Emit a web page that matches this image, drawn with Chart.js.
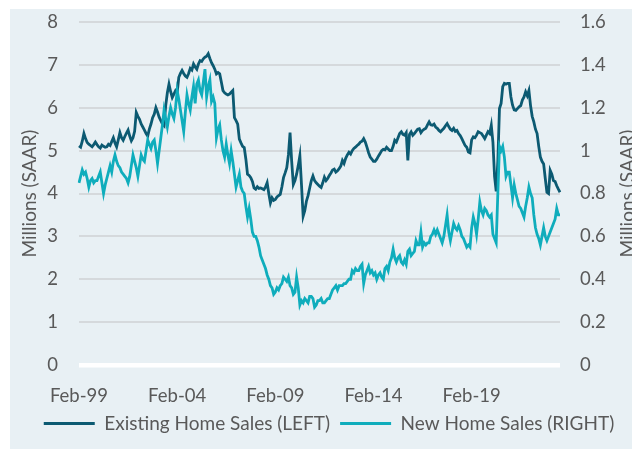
<!DOCTYPE html>
<html>
<head>
<meta charset="utf-8">
<script src="https://cdn.jsdelivr.net/npm/chart.js@4.4.0/dist/chart.umd.min.js"></script>
<style>
html,body{margin:0;padding:0;background:#ffffff;width:632px;height:449px;overflow:hidden}
#wrap{position:absolute;left:10px;top:9px;width:622px;height:440px;background:#e8f0f4}
canvas{display:block}
</style>
</head>
<body>
<div id="wrap"><canvas id="c" width="622" height="440"></canvas></div>
<script>
// Monthly data, Feb-1999 .. Aug-2023 (millions, SAAR)
const existingHomeSales = [
  5.11, 5.08, 5.22, 5.40, 5.28, 5.19, 5.15, 5.12, 5.09, 5.14, 5.20,             // 1999 (Feb-Dec)
  5.14, 5.09, 5.06, 5.13, 5.10, 5.08, 5.09, 5.15, 5.12, 5.21, 5.30, 5.18,       // 2000
  5.09, 5.25, 5.42, 5.30, 5.24, 5.33, 5.41, 5.48, 5.34, 5.23, 5.30, 5.45,       // 2001
  5.89, 5.80, 5.73, 5.62, 5.55, 5.48, 5.40, 5.34, 5.50, 5.62, 5.77, 5.85,       // 2002
  6.00, 5.90, 5.78, 5.70, 5.62, 5.58, 6.05, 6.35, 6.55, 6.38, 6.24, 6.32,       // 2003
  6.40, 6.35, 6.71, 6.80, 6.87, 6.80, 6.74, 6.71, 6.80, 6.92, 6.88, 7.02,       // 2004
  6.95, 6.90, 7.02, 7.10, 7.08, 7.14, 7.18, 7.20, 7.26, 7.15, 7.05, 6.98,       // 2005
  6.90, 6.79, 6.82, 6.79, 6.60, 6.40, 6.35, 6.32, 6.30, 6.32, 6.36, 6.40,       // 2006
  5.77, 5.70, 5.62, 5.27, 5.18, 5.10, 5.07, 4.80, 4.45, 4.42, 4.37, 4.28,       // 2007
  4.13, 4.10, 4.16, 4.12, 4.13, 4.11, 4.09, 4.15, 4.25, 4.00, 3.78, 3.90,       // 2008
  3.84, 3.86, 3.92, 3.95, 3.98, 4.15, 4.37, 4.48, 4.60, 4.90, 5.42, 4.75,       // 2009
  4.21, 4.30, 4.45, 4.65, 4.88, 4.20, 3.47, 3.60, 3.82, 3.95, 4.13, 4.30,       // 2010
  4.41, 4.30, 4.25, 4.21, 4.17, 4.14, 4.25, 4.38, 4.30, 4.35, 4.42, 4.48,       // 2011
  4.55, 4.57, 4.50, 4.53, 4.58, 4.64, 4.77, 4.70, 4.82, 4.90, 4.96, 4.92,       // 2012
  5.00, 5.05, 5.08, 5.12, 5.15, 5.20, 5.22, 5.28, 5.20, 5.08, 4.95, 4.85,       // 2013
  4.80, 4.75, 4.75, 4.80, 4.87, 4.93, 5.00, 5.03, 5.02, 5.08, 5.04, 5.00,       // 2014
  5.00, 5.10, 5.24, 5.20, 5.30, 5.40, 5.44, 5.38, 5.36, 5.42, 4.77, 5.38,       // 2015
  5.44, 5.36, 5.40, 5.45, 5.50, 5.51, 5.42, 5.47, 5.50, 5.52, 5.60, 5.67,       // 2016
  5.60, 5.59, 5.62, 5.55, 5.52, 5.47, 5.44, 5.48, 5.52, 5.58, 5.63, 5.56,       // 2017
  5.50, 5.47, 5.52, 5.45, 5.47, 5.40, 5.35, 5.28, 5.20, 5.12, 5.08, 4.97,       // 2018
  4.95, 5.25, 5.32, 5.30, 5.36, 5.44, 5.42, 5.40, 5.34, 5.28, 5.36, 5.44,       // 2019
  5.40, 5.59, 5.20, 4.40, 4.05, 4.75, 5.98, 6.10, 6.49, 6.57, 6.55, 6.57,       // 2020
  6.57, 6.25, 6.06, 5.95, 5.94, 5.98, 6.02, 6.05, 6.18, 6.25, 6.37, 6.28,       // 2021
  6.40, 6.05, 5.80, 5.67, 5.50, 5.40, 5.10, 4.85, 4.75, 4.69, 4.35, 4.03,       // 2022
  4.00, 4.54, 4.45, 4.30, 4.28, 4.18, 4.10, 4.03                                // 2023 (Jan-Aug)
];
const newHomeSales = [
  0.85, 0.88, 0.91, 0.89, 0.90, 0.87, 0.83, 0.86, 0.87, 0.85, 0.86,             // 1999 (Feb-Dec)
  0.86, 0.88, 0.90, 0.85, 0.80, 0.84, 0.87, 0.90, 0.93, 0.90, 0.95, 0.98,       // 2000
  0.95, 0.93, 0.92, 0.90, 0.89, 0.88, 0.87, 0.85, 0.88, 0.93, 0.98, 0.95,       // 2001
  0.92, 0.88, 0.93, 0.98, 0.96, 0.95, 1.00, 1.05, 1.03, 1.01, 1.04, 1.05,       // 2002
  1.00, 0.94, 1.00, 1.06, 1.12, 1.19, 1.15, 1.11, 1.16, 1.20, 1.17, 1.15,       // 2003
  1.20, 1.28, 1.24, 1.19, 1.14, 1.09, 1.18, 1.26, 1.22, 1.19, 1.25, 1.30,       // 2004
  1.22, 1.31, 1.33, 1.28, 1.26, 1.32, 1.38, 1.25, 1.30, 1.33, 1.23, 1.25,       // 2005
  1.22, 1.06, 1.10, 1.12, 1.05, 1.00, 0.97, 1.03, 0.98, 0.94, 1.00, 0.95,       // 2006
  0.89, 0.83, 0.86, 0.89, 0.83, 0.81, 0.80, 0.74, 0.69, 0.73, 0.68, 0.62,       // 2007
  0.60, 0.60, 0.58, 0.55, 0.51, 0.49, 0.47, 0.45, 0.42, 0.40, 0.37, 0.36,       // 2008
  0.33, 0.34, 0.36, 0.35, 0.37, 0.38, 0.41, 0.40, 0.39, 0.41, 0.37, 0.36,       // 2009
  0.33, 0.34, 0.41, 0.36, 0.28, 0.30, 0.29, 0.31, 0.30, 0.29, 0.32, 0.32,       // 2010
  0.31, 0.27, 0.28, 0.30, 0.30, 0.31, 0.29, 0.29, 0.30, 0.31, 0.31, 0.33,       // 2011
  0.35, 0.36, 0.37, 0.35, 0.37, 0.37, 0.37, 0.38, 0.38, 0.39, 0.40, 0.40,       // 2012
  0.44, 0.43, 0.45, 0.44, 0.44, 0.46, 0.47, 0.38, 0.42, 0.44, 0.46, 0.43,       // 2013
  0.44, 0.42, 0.43, 0.40, 0.42, 0.43, 0.41, 0.40, 0.45, 0.46, 0.44, 0.48,       // 2014
  0.50, 0.54, 0.50, 0.48, 0.50, 0.51, 0.48, 0.47, 0.49, 0.47, 0.53, 0.54,       // 2015
  0.51, 0.52, 0.53, 0.58, 0.56, 0.56, 0.62, 0.55, 0.57, 0.56, 0.57, 0.57,       // 2016
  0.60, 0.61, 0.63, 0.61, 0.63, 0.61, 0.59, 0.57, 0.60, 0.65, 0.70, 0.62,       // 2017
  0.58, 0.62, 0.66, 0.64, 0.63, 0.65, 0.63, 0.60, 0.59, 0.57, 0.55, 0.56,       // 2018
  0.55, 0.64, 0.69, 0.66, 0.61, 0.68, 0.76, 0.72, 0.70, 0.73, 0.72, 0.70,       // 2019
  0.69, 0.70, 0.61, 0.59, 0.57, 0.80, 1.02, 1.00, 1.02, 0.97, 0.88, 0.90,       // 2020
  0.90, 0.84, 0.78, 0.84, 0.80, 0.77, 0.74, 0.73, 0.71, 0.69, 0.74, 0.78,       // 2021
  0.83, 0.80, 0.78, 0.70, 0.64, 0.61, 0.59, 0.56, 0.60, 0.64, 0.60, 0.58,       // 2022
  0.60, 0.62, 0.64, 0.66, 0.68, 0.73, 0.70, 0.70                                // 2023 (Jan-Aug)
];
const monthNames = ['Jan','Feb','Mar','Apr','May','Jun','Jul','Aug','Sep','Oct','Nov','Dec'];
const startYear = 1999, startMonthIndex = 1; // Feb-1999
const categories = [];
for (let i = 0; i < existingHomeSales.length; i++) {
  const mi = startMonthIndex + i;
  const y = startYear + Math.floor(mi / 12);
  categories.push(monthNames[mi % 12] + '-' + String(y % 100).padStart(2, '0'));
}
const xTickLabels = ['Feb-99', 'Feb-04', 'Feb-09', 'Feb-14', 'Feb-19'];
const seriesNames = ['Existing Home Sales (LEFT)', 'New Home Sales (RIGHT)'];
const axisTitle = 'Millions (SAAR)';

const DARK = '#0c5a72';
const CYAN = '#0fadbc';
const TEXT = '#595959';
const FONT = 'Lato';

const rightTitlePlugin = {
  id: 'rightTitle',
  afterDraw(chart) {
    const c = chart.ctx;
    c.save();
    c.translate(chart.width - 4, (chart.chartArea.top + chart.chartArea.bottom) / 2);
    c.rotate(-Math.PI / 2);
    c.font = '19px ' + FONT;
    c.fillStyle = TEXT;
    c.textAlign = 'center';
    c.textBaseline = 'middle';
    c.fillText(axisTitle, 0, 0);
    c.restore();
  }
};

function noVPad(s) { s.paddingTop = 0; s.paddingBottom = 0; }

new Chart(document.getElementById('c'), {
  type: 'line',
  data: {
    labels: categories,
    datasets: [
      { label: seriesNames[0], data: existingHomeSales, yAxisID: 'y', borderColor: DARK, backgroundColor: DARK,
        borderWidth: 2.8, pointRadius: 0, tension: 0, order: 1 },
      { label: seriesNames[1], data: newHomeSales, yAxisID: 'y1', borderColor: CYAN, backgroundColor: CYAN,
        borderWidth: 2.8, pointRadius: 0, tension: 0, order: 0 }
    ]
  },
  options: {
    responsive: false,
    animation: false,
    layout: { padding: { left: 16, right: 0, top: 13, bottom: 6 } },
    plugins: {
      tooltip: { enabled: false },
      legend: {
        position: 'bottom',
        labels: {
          boxWidth: 51, boxHeight: 3, padding: 10, color: TEXT,
          font: { family: FONT, size: 19 },
          generateLabels: () => [
            { text: seriesNames[0], fillStyle: DARK, strokeStyle: DARK, lineWidth: 0, hidden: false, datasetIndex: 0, fontColor: TEXT },
            { text: seriesNames[1], fillStyle: CYAN, strokeStyle: CYAN, lineWidth: 0, hidden: false, datasetIndex: 1, fontColor: TEXT }
          ]
        }
      }
    },
    scales: {
      x: {
        type: 'category', offset: false,
        grid: { display: false, drawTicks: false },
        border: { display: false },
        ticks: {
          autoSkip: false, maxRotation: 0, minRotation: 0, padding: 20, color: TEXT,
          font: { family: FONT, size: 18.5 },
          callback: (v, i) => xTickLabels.includes(categories[i]) ? categories[i] : ''
        },
        afterFit: s => { s.height = 39; }
      },
      y: {
        position: 'left', min: 0, max: 8,
        ticks: { stepSize: 1, padding: 21, color: TEXT, font: { family: FONT, size: 18.5 } },
        grid: {
          drawTicks: false,
          color: c => c.tick && c.tick.value === 0 ? '#ffffff' : '#d5d9dc',
          lineWidth: c => c.tick && c.tick.value === 0 ? 4.5 : 2
        },
        border: { display: false },
        title: { display: true, text: axisTitle, color: TEXT, font: { family: FONT, size: 19 }, padding: { top: -8, bottom: 0 } },
        afterFit: s => { s.width = 53; noVPad(s); }
      },
      y1: {
        position: 'right', min: 0, max: 1.6,
        ticks: { stepSize: 0.2, padding: 20, color: TEXT, font: { family: FONT, size: 18.5 },
          callback: v => String(Math.round(v * 10) / 10) },
        grid: { display: false, drawTicks: false },
        border: { display: false },
        afterFit: s => { s.width = 72; noVPad(s); }
      }
    }
  },
  plugins: [rightTitlePlugin]
});
</script>
</body>
</html>
